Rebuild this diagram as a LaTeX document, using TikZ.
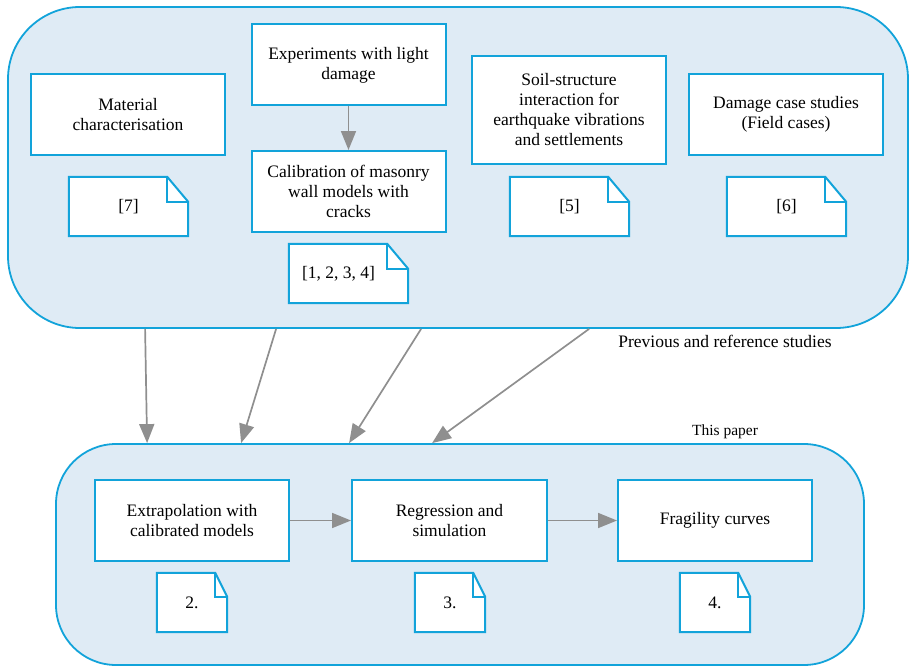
\documentclass[tikz,border=0pt]{standalone}
\usepackage{fontspec}
\setmainfont{Liberation Serif}
\newfontfamily\labelfont{Liberation Serif}
\usepackage{tikz}
\usetikzlibrary{positioning,arrows.meta,calc}
\definecolor{cyanline}{HTML}{12A3DA}
\definecolor{panel}{HTML}{DFEBF5}
\definecolor{flowgray}{HTML}{8F8F8F}
\tikzset{
  group/.style={draw=cyanline, fill=panel, line width=1.8pt, inner sep=0pt},
  task/.style={draw=cyanline, fill=white, line width=2pt, minimum width=194pt, minimum height=81pt, inner sep=2pt, align=center, font=\labelfont\fontsize{17.5}{20}\selectfont},
  doc/.style={fill=white, minimum width=119pt, minimum height=59pt, inner sep=0pt, font=\labelfont\fontsize{17.5}{20}\selectfont},
  docline/.style={draw=cyanline, line width=2pt, line join=miter},
  flow/.style={-{Triangle[length=19pt,width=15pt]}, draw=flowgray, fill=flowgray, line width=1.7pt},
  caption/.style={inner sep=0pt, font=\labelfont\fontsize{17.5}{20}\selectfont},
}
% folded corner of a reference note: node, fold width, fold height
\newcommand{\foldcorner}[3]{%
  \fill[panel] ([xshift=-#2pt]#1.north east) -- (#1.north east) -- ([yshift=-#3pt]#1.north east) -- cycle;
  \draw[docline] (#1.north west) -- ([xshift=-#2pt]#1.north east) -- ([yshift=-#3pt]#1.north east) -- (#1.south east) -- (#1.south west) -- cycle;
  \draw[docline] ([xshift=-#2pt]#1.north east) |- ([yshift=-#3pt]#1.north east);
}
\begin{document}
\begin{tikzpicture}[x=1pt, y=-1pt]
  \useasboundingbox (0,0) rectangle (909,666);
  % containers
  \node[group, rounded corners=72pt, minimum width=900pt, minimum height=321pt] (prev) at (458,167.5) {};
  \node[group, rounded corners=60pt, minimum width=808pt, minimum height=221pt] (this) at (460,554.5) {};
  \node[caption] (prevlab) at (725,341) {Previous and reference studies};
  \node[caption, font=\labelfont\fontsize{15.5}{18}\selectfont] (thislab) at (725,432) {This paper};

  % previous and reference studies
  \node[task] (mat)  at (128,114.5)   {Material\\characterisation};
  \node[task] (exp)  at (348.5,65)    {Experiments with light\\damage};
  \node[task] (cal)  at (348.5,191.5) {Calibration of masonry\\wall models with\\cracks};
  \node[task, minimum height=108pt] (soil) at (569,110) {Soil-structure\\interaction for\\earthquake vibrations\\and settlements};
  \node[task] (case) at (786,114.5)   {Damage case studies\\(Field cases)};

  \node[doc] (r7)    at (128.5,206.5) {[7]};
  \node[doc] (r1234) at (348.5,273.5) {\hspace*{-20pt}[1, 2, 3, 4]};
  \node[doc] (r5)    at (569.5,206.5) {[5]};
  \node[doc] (r6)    at (786.5,206.5) {[6]};
  \foldcorner{r7}{21}{25}
  \foldcorner{r1234}{21}{25}
  \foldcorner{r5}{21}{25}
  \foldcorner{r6}{21}{25}

  % this paper
  \node[task] (ext)  at (192,520.5)   {Extrapolation with\\calibrated models};
  \node[task, minimum width=195pt] (reg) at (449.5,520.5) {Regression and\\simulation};
  \node[task] (frag) at (715,520.5)   {Fragility curves};

  \node[doc, minimum width=70pt] (n2) at (192,602.5) {2.};
  \node[doc, minimum width=70pt] (n3) at (450,602.5) {3.};
  \node[doc, minimum width=70pt] (n4) at (715,602.5) {4.};
  \foldcorner{n2}{12}{24}
  \foldcorner{n3}{12}{24}
  \foldcorner{n4}{12}{24}

  \draw[flow] (exp) -- (cal);
  \draw[flow] (ext) -- (reg);
  \draw[flow] (reg) -- (frag);
  \draw[flow] ([xshift=138pt]prev.south west) -- ([xshift=92pt]this.north west);
  \draw[flow] ([xshift=269pt]prev.south west) -- ([xshift=186pt]this.north west);
  \draw[flow] ([xshift=414pt]prev.south west) -- ([xshift=294pt]this.north west);
  \draw[flow] ([xshift=582pt]prev.south west) -- ([xshift=377pt]this.north west);
\end{tikzpicture}
\end{document}
